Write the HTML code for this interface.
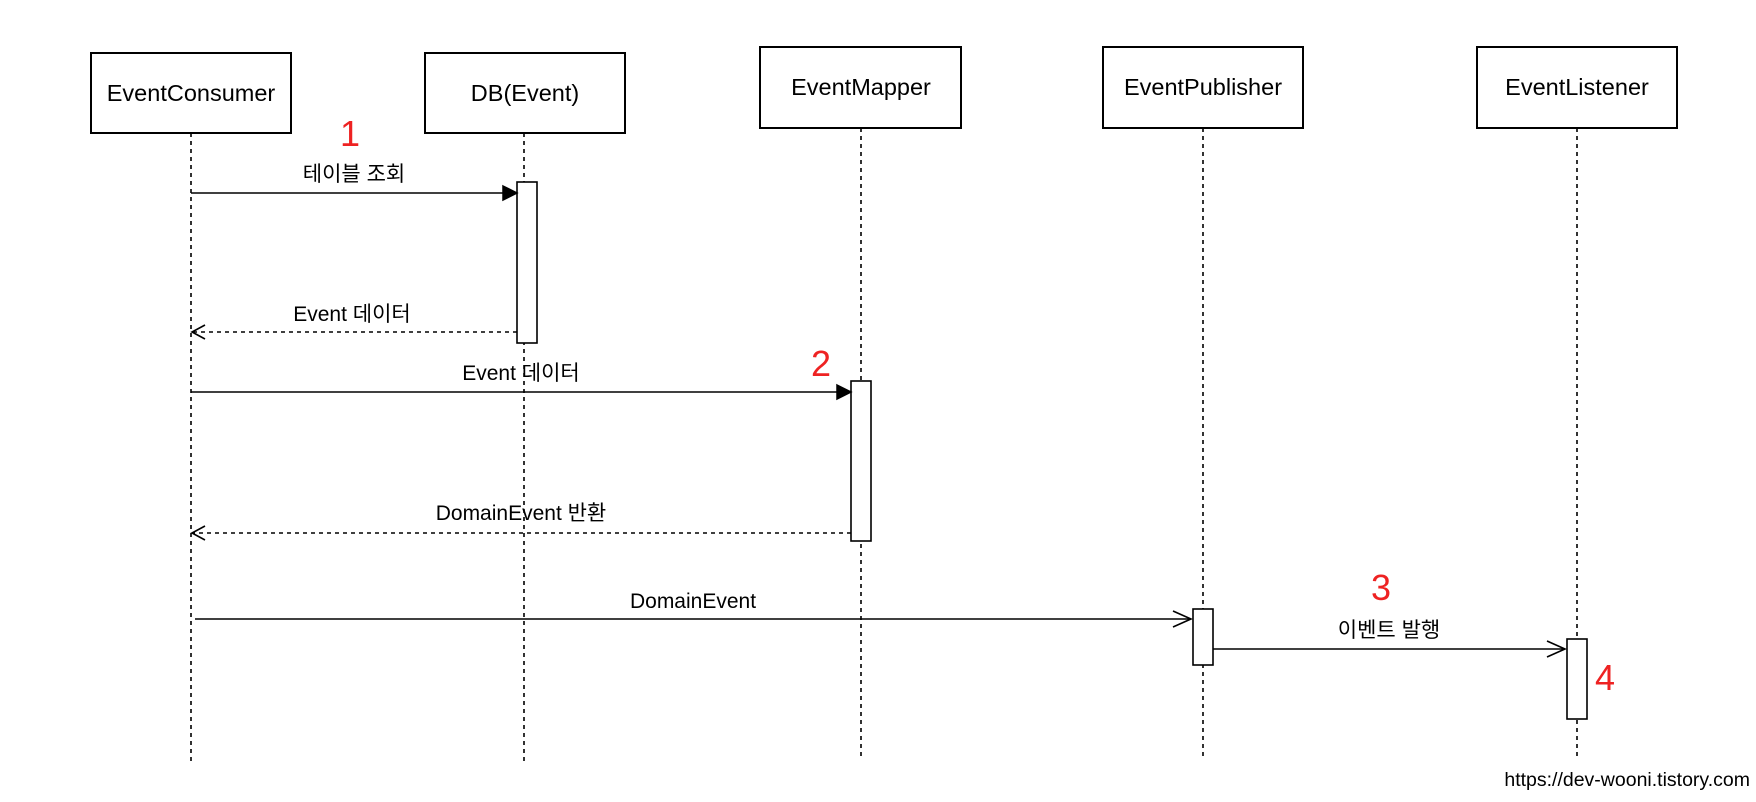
<!DOCTYPE html>
<html><head><meta charset="utf-8"><style>
html,body{margin:0;padding:0;background:#fff;}
svg{display:block;}
text{font-family:"Liberation Sans","Noto Sans CJK KR",sans-serif;}
</style></head><body>
<svg width="1756" height="802" viewBox="0 0 1756 802" xmlns="http://www.w3.org/2000/svg">
<rect width="1756" height="802" fill="#fff"/>
<g stroke="#000" stroke-width="1.6" fill="none" stroke-dasharray="4,4">
<line x1="191" y1="133" x2="191" y2="762"/>
<line x1="524" y1="133" x2="524" y2="762"/>
<line x1="861" y1="128" x2="861" y2="757"/>
<line x1="1203" y1="128" x2="1203" y2="757"/>
<line x1="1577" y1="128" x2="1577" y2="757"/>
</g>
<g stroke="#000" stroke-width="2" fill="#fff">
<rect x="91" y="53" width="200" height="80"/>
<rect x="425" y="53" width="200" height="80"/>
<rect x="760" y="47" width="201" height="81"/>
<rect x="1103" y="47" width="200" height="81"/>
<rect x="1477" y="47" width="200" height="81"/>
</g>
<g font-size="23.5" text-anchor="middle" fill="#000">
<text x="191" y="101">EventConsumer</text>
<text x="525" y="101">DB(Event)</text>
<text x="861" y="95">EventMapper</text>
<text x="1203" y="95">EventPublisher</text>
<text x="1577" y="95">EventListener</text>
</g>
<g stroke="#000" stroke-width="1.6" fill="#fff">
<rect x="517" y="182" width="20" height="161"/>
<rect x="851" y="381" width="20" height="160"/>
<rect x="1193" y="609" width="20" height="56"/>
<rect x="1567" y="639" width="20" height="80"/>
</g>
<g stroke="#000" stroke-width="1.6" fill="none">
<line x1="191" y1="193" x2="505" y2="193"/>
<line x1="517" y1="332" x2="193" y2="332" stroke-dasharray="4,4"/>
<polyline points="205,325 192,332 205,339"/>
<line x1="191" y1="392" x2="839" y2="392"/>
<line x1="851" y1="533" x2="193" y2="533" stroke-dasharray="4,4"/>
<polyline points="205,526 192,533 205,540"/>
<line x1="195" y1="619" x2="1191" y2="619"/>
<polyline points="1173,611 1191,619 1173,627"/>
<line x1="1213" y1="649" x2="1565" y2="649"/>
<polyline points="1547,641 1565,649 1547,657"/>
</g>
<polygon points="503,186 517,193 503,200" fill="#000" stroke="#000" stroke-width="1.5"/>
<polygon points="837,385 851,392 837,399" fill="#000" stroke="#000" stroke-width="1.5"/>
<g font-size="21" text-anchor="middle" fill="#000">
<text x="354" y="181">테이블 조회</text>
<text x="352" y="321">Event 데이터</text>
<text x="521" y="380">Event 데이터</text>
<text x="521" y="520">DomainEvent 반환</text>
<text x="693" y="608">DomainEvent</text>
<text x="1389" y="637">이벤트 발행</text>
</g>
<g font-size="36" fill="#ee2222" text-anchor="middle">
<text x="350" y="146">1</text>
<text x="821" y="376">2</text>
<text x="1381" y="600">3</text>
<text x="1605" y="690">4</text>
</g>
<text x="1750" y="786" font-size="19.5" text-anchor="end" fill="#000">https://dev-wooni.tistory.com</text>
</svg>
</body></html>
